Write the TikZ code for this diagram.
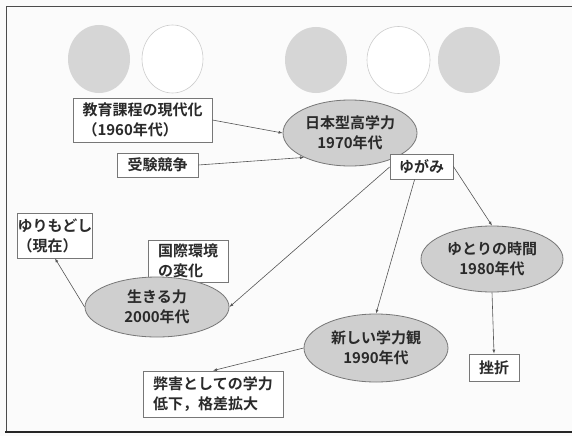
\documentclass[tikz,border=0pt]{standalone}
\usepackage{fontspec}
\setmainfont{Noto Sans CJK JP}[BoldFont={Noto Sans CJK JP Bold}]
\usetikzlibrary{arrows.meta,shapes.geometric}
\definecolor{ellfill}{HTML}{CFCFCF}
\definecolor{circfill}{HTML}{D6D6D6}
\definecolor{linec}{HTML}{555555}
\definecolor{txt}{HTML}{2A2A2A}
\tikzset{
  lbl/.style={font=\bfseries\fontsize{15}{20}\selectfont, text=txt},
  boxn/.style={lbl, draw=linec!80, fill=white, line width=0.8pt, inner sep=0pt, align=center},
  boxl/.style={boxn, align=left},
  ell/.style={lbl, ellipse, draw=linec!80, fill=ellfill, line width=0.8pt, inner sep=0pt, align=center},
  gcirc/.style={ellipse, fill=circfill, draw=none, inner sep=0pt},
  wcirc/.style={ellipse, fill=white, draw=gray!40, line width=0.6pt, inner sep=0pt},
  arr/.style={draw=linec, line width=0.6pt, -{Latex[length=4pt,width=3pt]}}
}
\begin{document}
\begin{tikzpicture}[x=1pt,y=-1pt]
\useasboundingbox (0,0) rectangle (572,436);
\fill[white!97!gray] (0,0) rectangle (572,436);
% frame
\draw[gray!60!black, line width=1pt] (572,7) -- (6,7) -- (6,432);
\draw[black!85, line width=1.6pt] (5,432) -- (572,432);
% decorative circles
\node[gcirc, minimum width=62pt, minimum height=68pt] (c1) at (99,59) {};
\node[wcirc, minimum width=61pt, minimum height=68pt] (c2) at (172.5,59) {};
\node[gcirc, minimum width=62pt, minimum height=66pt] (c3) at (316,60) {};
\node[wcirc, minimum width=63pt, minimum height=67pt] (c4) at (398.5,60) {};
\node[gcirc, minimum width=62pt, minimum height=66pt] (c5) at (469,60) {};
% box behind ellipse
\node[boxl, minimum width=80pt, minimum height=42pt] (kk) at (188,261) {国際環境\\の変化};
% ellipses
\node[ell, minimum width=134pt, minimum height=66pt] (e1) at (350,133) {日本型高学力\\1970年代};
\node[ell, minimum width=142pt, minimum height=66pt] (e2) at (492,259) {ゆとりの時間\\1980年代};
\node[ell, minimum width=144pt, minimum height=68pt] (e3) at (376,348) {新しい学力観\\1990年代};
\node[ell, minimum width=144pt, minimum height=60pt] (e4) at (157,307) {生きる力\\2000年代};
% boxes
\node[boxl, minimum width=139pt, minimum height=44pt] (b1) at (142.5,120) {教育課程の現代化\\（1960年代）};
\node[boxn, minimum width=81pt, minimum height=24pt] (b2) at (157.5,165) {受験競争};
\node[boxn, minimum width=63pt, minimum height=25pt] (yg) at (421.5,166.5) {ゆがみ};
\node[boxl, minimum width=74pt, minimum height=45pt] (ym) at (55,235.5) {ゆりもどし\\（現在）};
\node[boxn, minimum width=50pt, minimum height=27pt] (zs) at (494,367.5) {挫折};
\node[boxl, minimum width=140pt, minimum height=46pt] (hg) at (213,394) {弊害としての学力\\低下，格差拡大};
% connectors
\draw[arr] (b1.east) -- (e1.west);
\draw[arr] (b2.east) -- (e1.-152);
\draw[arr] (yg.west |- 0,167) -- (e4.east);
\draw[arr] (yg.-118) -- (e3.north);
\draw[arr] (yg.east) -- (e2.north);
\draw[arr] (e2.south) -- (zs.north);
\draw[arr] (e3.west) -- (hg.north);
\draw[arr] (e4.west) -- (ym.south);
\end{tikzpicture}
\end{document}
